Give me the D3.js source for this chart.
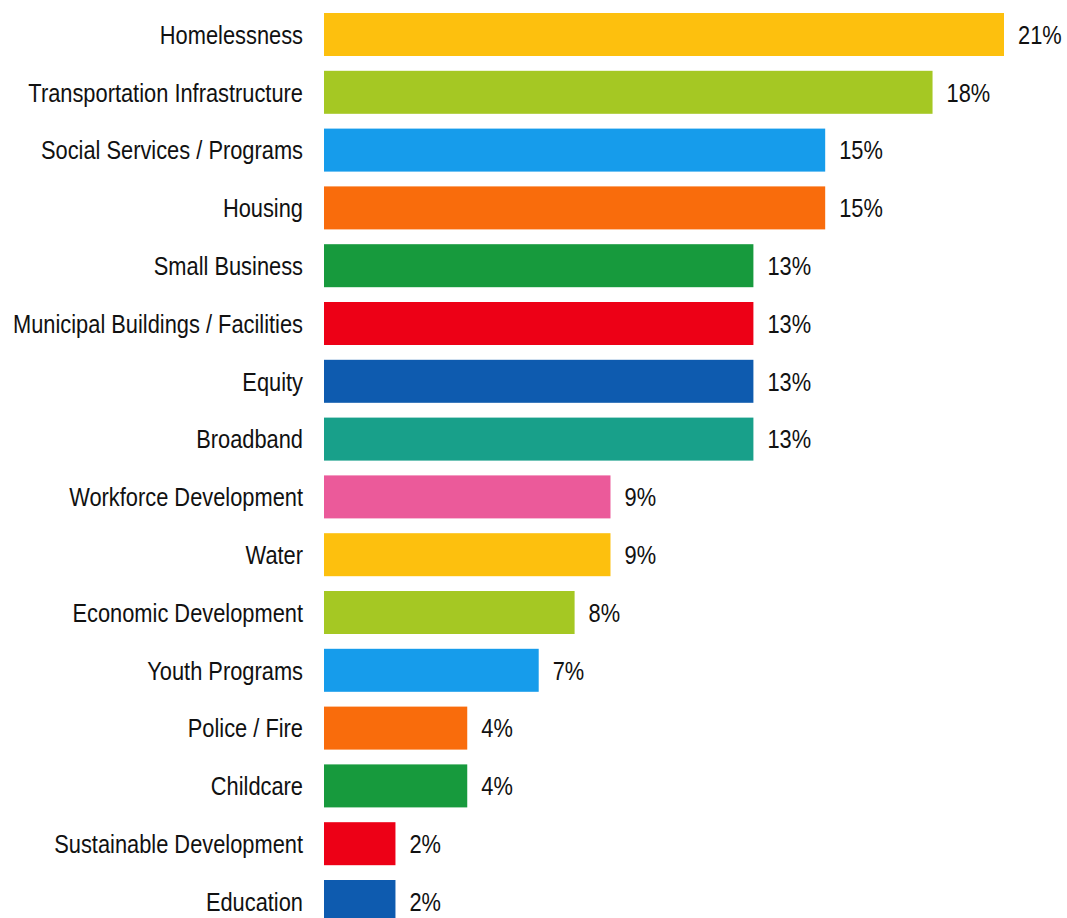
<!DOCTYPE html>
<html>
<head>
<meta charset="utf-8">
<script src="https://cdn.jsdelivr.net/npm/d3@7"></script>
<style>
  body { margin: 0; background: #fff; }
  text { font-family: "Liberation Sans", Arial, sans-serif; fill: #111; }
</style>
</head>
<body>
<svg id="chart"></svg>
<script>
// categories, top to bottom
var categories = [
  'Homelessness', 'Transportation Infrastructure', 'Social Services / Programs',
  'Housing', 'Small Business', 'Municipal Buildings / Facilities', 'Equity',
  'Broadband', 'Workforce Development', 'Water', 'Economic Development',
  'Youth Programs', 'Police / Fire', 'Childcare', 'Sustainable Development',
  'Education'
];

// share of responses, percent (labels show these rounded)
var values = [20.65, 18.48, 15.22, 15.22, 13.04, 13.04, 13.04, 13.04,
              8.70, 8.70, 7.61, 6.52, 4.35, 4.35, 2.17, 2.17];

var palette = ['#FDC00E', '#A5C823', '#169CEB', '#F96C0C', '#179A3D',
               '#ED0016', '#0E5BAF', '#18A08A', '#EB5A9A'];

var width = 1067;
var height = 918;

var left = 324;
var top0 = 13;
var step = 57.8;
var barH = 43;
var squeeze = 0.84;   // narrow look of the original font

var svg = d3.select('#chart').attr('width', width).attr('height', height);

var x = d3.scaleLinear()
  .domain([0, 20.65])
  .range([left, 1004]);

var y = d3.scaleBand()
  .domain(categories)
  .range([top0, top0 + step * (categories.length - 1) + barH])
  .paddingInner((step - barH) / step)
  .paddingOuter(0);

var rows = svg.selectAll('.row')
  .data(categories)
  .enter()
  .append('g')
  .attr('class', 'row');

rows.append('rect')
  .attr('x', x(0))
  .attr('y', function(d) { return y(d); })
  .attr('width', function(d, i) { return x(values[i]) - x(0); })
  .attr('height', y.bandwidth())
  .attr('fill', function(d, i) { return palette[i % palette.length]; });

// category names
rows.append('text')
  .attr('transform', function(d) {
    return 'translate(303,' + (y(d) + y.bandwidth() / 2) + ') scale(' + squeeze + ',1)';
  })
  .attr('dy', '0.36em')
  .attr('text-anchor', 'end')
  .style('font-size', '26px')
  .text(function(d) { return d; });

// value labels
rows.append('text')
  .attr('transform', function(d, i) {
    return 'translate(' + (x(values[i]) + 14) + ',' + (y(d) + y.bandwidth() / 2) + ') scale(' + squeeze + ',1)';
  })
  .attr('dy', '0.36em')
  .style('font-size', '26px')
  .text(function(d, i) { return Math.round(values[i]) + '%'; });
</script>
</body>
</html>
